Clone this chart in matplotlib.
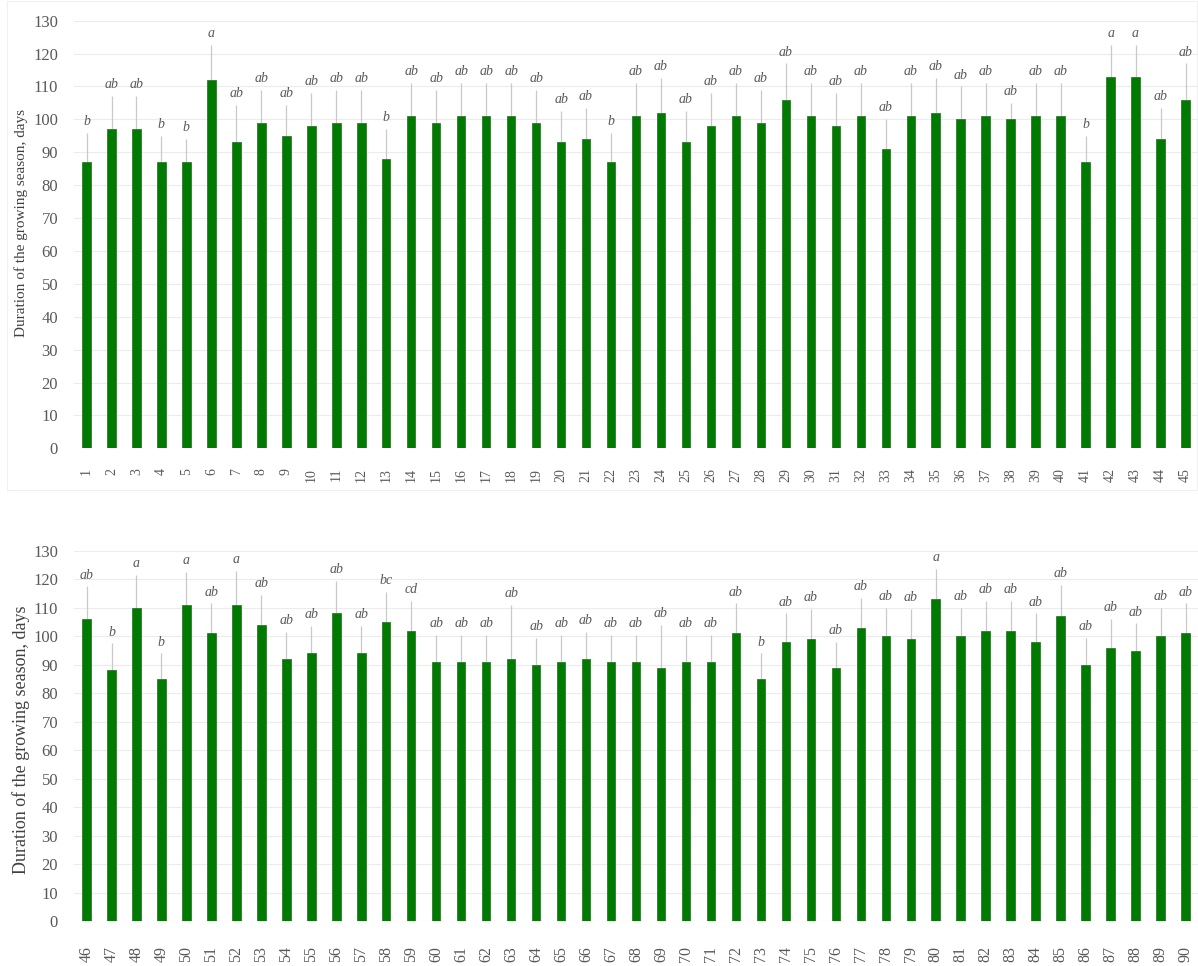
import numpy as np
import matplotlib.pyplot as plt
from matplotlib.patches import Rectangle

plt.rcParams['font.family'] = ['Liberation Serif', 'DejaVu Serif']
plt.rcParams['figure.dpi'] = 100

# %%
# data (two panels, genotypes 1-45 and 46-90)

top_ids = list(range(1, 46))
top_days = [87, 97, 97, 87, 87, 112, 93, 99, 95, 98, 99, 99, 88, 101, 99,
            101, 101, 101, 99, 93, 94, 87, 101, 102, 93, 98, 101, 99, 106, 101,
            98, 101, 91, 101, 102, 100, 101, 100, 101, 101, 87, 113, 113, 94, 106]
top_err = [9, 10, 10, 8, 7, 10.5, 11.5, 10, 9.5, 10, 10, 10, 9, 10, 10,
           10, 10, 10, 10, 9.5, 9.5, 9, 10, 10.5, 9.5, 10, 10, 10, 11, 10,
           10, 10, 9, 10, 10.5, 10, 10, 5, 10, 10, 8, 9.5, 9.5, 9.5, 11]
top_groups = ['b', 'ab', 'ab', 'b', 'b', 'a', 'ab', 'ab', 'ab', 'ab', 'ab', 'ab',
              'b', 'ab', 'ab', 'ab', 'ab', 'ab', 'ab', 'ab', 'ab', 'b', 'ab',
              'ab', 'ab', 'ab', 'ab', 'ab', 'ab', 'ab', 'ab', 'ab', 'ab', 'ab',
              'ab', 'ab', 'ab', 'ab', 'ab', 'ab', 'b', 'a', 'a', 'ab', 'ab']

bottom_ids = list(range(46, 91))
bottom_days = [106, 88, 110, 85, 111, 101, 111, 104, 92, 94, 108, 94, 105, 102, 91,
               91, 91, 92, 90, 91, 92, 91, 91, 89, 91, 91, 101, 85, 98, 99,
               89, 103, 100, 99, 113, 100, 102, 102, 98, 107, 90, 96, 95, 100, 101]
bottom_err = [11.5, 9.5, 11.5, 9, 11.5, 10.5, 12, 10.5, 9.5, 9.5, 11.5, 9.5, 10.5, 10.5, 9.5,
              9.5, 9.5, 19, 9.5, 9.5, 9.5, 9.5, 9.5, 15, 9.5, 9.5, 10.5, 9, 10, 10.5,
              9, 10.5, 10, 10.5, 10.5, 10, 10.5, 10.5, 10, 11, 9.5, 10, 9.5, 10, 10.5]
bottom_groups = ['ab', 'b', 'a', 'b', 'a', 'ab', 'a', 'ab', 'ab', 'ab', 'ab', 'ab',
                 'bc', 'cd', 'ab', 'ab', 'ab', 'ab', 'ab', 'ab', 'ab', 'ab', 'ab',
                 'ab', 'ab', 'ab', 'ab', 'b', 'ab', 'ab', 'ab', 'ab', 'ab', 'ab',
                 'a', 'ab', 'ab', 'ab', 'ab', 'ab', 'ab', 'ab', 'ab', 'ab', 'ab']

y_ticks = list(range(0, 131, 10))
y_label = 'Duration of the growing season, days'

# %%


def draw_panel(ax, ids, days, err, groups, xpad=14, xsize=10, lsize=11,
               label_xy=(-0.041, 0.5)):
    """one Excel-like column chart with upward error bars and letters"""
    x = np.arange(len(ids))
    ax.bar(x, days, width=0.34, color='#007a00', edgecolor='#1f6b1f',
           linewidth=0.5, zorder=3)
    ax.errorbar(x, days, yerr=[np.zeros(len(err)), err], fmt='none',
                ecolor='#c9c9c9', elinewidth=0.9, capsize=0, zorder=2)
    for xi, d, e, g in zip(x, days, err, groups):
        ax.annotate(g, (xi, d + e), xytext=(0, 3.5), textcoords='offset points',
                    ha='center', va='bottom', fontsize=10, style='italic',
                    color='#595959')
    ax.set_xlim(-0.5, len(ids) - 0.5)
    ax.set_ylim(0, 130)
    ax.set_yticks(y_ticks)
    ax.set_xticks(x, labels=[str(i) for i in ids], rotation=90)
    ax.tick_params(axis='both', length=0, colors='#595959')
    ax.tick_params(axis='x', pad=xpad, labelsize=xsize)
    ax.tick_params(axis='y', pad=11.5, labelsize=12)
    ax.grid(axis='y', color='#ececec', linewidth=0.8, zorder=0)
    ax.spines[:].set_visible(False)
    ax.set_ylabel(y_label, fontsize=lsize, color='#404040')
    ax.yaxis.set_label_coords(*label_xy)


fig = plt.figure(figsize=(11.98, 9.66))
ax1 = fig.add_axes([0.0618, 0.5359, 0.9382, 0.4427])
ax2 = fig.add_axes([0.0618, 0.0461, 0.9382, 0.3838])

# faint chart-area border of the upper chart
fig.patches.append(Rectangle((0.006, 0.493), 0.993, 0.506, transform=fig.transFigure,
                             fill=False, edgecolor='#f0f0f0', linewidth=0.8))

draw_panel(ax1, top_ids, top_days, top_err, top_groups,
           xpad=14, xsize=10, lsize=11, label_xy=(-0.041, 0.526))
draw_panel(ax2, bottom_ids, bottom_days, bottom_err, bottom_groups,
           xpad=18, xsize=11.5, lsize=13, label_xy=(-0.039, 0.49))

fig.savefig('out.png', dpi=100)
